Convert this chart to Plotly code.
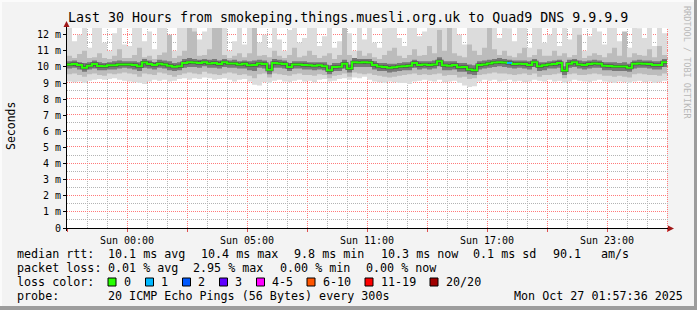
import plotly.graph_objects as go

# ---------------- data (15-minute slots over the last 30 hours) ----------------
slot_hours = 0.25
tick_hours = [0, 3, 6, 9, 12, 15, 18, 21, 24, 27, 30]
tick_labels = ["", "Sun 00:00", "", "Sun 05:00", "", "Sun 11:00", "", "Sun 17:00", "", "Sun 23:00", ""]
y_ticks = [0, 1, 2, 3, 4, 5, 6, 7, 8, 9, 10, 11, 12]
y_labels = ["0", "1 m", "2 m", "3 m", "4 m", "5 m", "6 m", "7 m", "8 m", "9 m", "10 m", "11 m", "12 m"]

# median rtt (ms)
med = [10.15, 10.18, 10.12, 9.95, 10.08, 10.18, 10.06, 10.05, 10.10, 10.10, 10.15, 10.16,
       10.15, 10.12, 10.05, 10.28, 10.18, 10.12, 10.20, 10.15, 10.08, 10.02, 10.05, 10.25,
       10.30, 10.28, 10.25, 10.30, 10.22, 10.25, 10.18, 10.30, 10.22, 10.22, 10.15, 10.20,
       10.10, 10.12, 10.22, 10.18, 9.82, 10.25, 10.22, 10.18, 10.00, 10.15, 10.15, 10.12,
       10.10, 10.08, 10.10, 10.05, 9.80, 10.00, 10.02, 10.20, 9.90, 10.30, 10.28, 10.30,
       10.28, 10.12, 10.03, 10.00, 9.95, 9.98, 10.03, 10.05, 10.08, 10.25, 10.12, 10.15,
       10.12, 10.15, 10.35, 10.10, 10.08, 10.12, 9.98, 10.00, 9.85, 9.80, 10.12, 10.15,
       10.22, 10.28, 10.30, 10.28, 10.25, 10.18, 10.20, 10.18, 10.12, 10.30, 10.05, 10.10,
       10.15, 10.18, 10.25, 9.78, 10.20, 10.30, 10.15, 10.12, 10.18, 10.22, 10.20, 10.08,
       10.06, 10.03, 10.03, 10.03, 9.95, 10.20, 10.22, 10.20, 10.18, 10.12, 10.12, 10.30]

# smoke: fastest / slowest ping (ms)
smoke_min = [9.10, 9.05, 9.10, 9.00, 9.15, 9.20, 9.25, 9.20, 9.25, 9.30, 9.20, 9.15,
             9.10, 9.05, 9.00, 8.95, 9.10, 9.20, 9.15, 9.20, 9.10, 9.15, 9.25, 9.30,
             9.20, 9.30, 9.25, 9.35, 9.30, 9.20, 9.25, 9.30, 9.20, 9.10, 9.20, 9.25,
             9.10, 8.90, 8.85, 9.05, 9.00, 9.15, 9.20, 9.10, 9.05, 9.15, 9.20, 9.10,
             9.15, 9.05, 9.20, 9.25, 9.10, 9.15, 9.25, 9.30, 9.20, 9.35, 9.30, 9.40,
             9.20, 9.10, 9.05, 9.00, 9.10, 9.05, 9.00, 9.00, 8.95, 9.10, 9.15, 9.20,
             9.15, 9.10, 9.20, 9.05, 9.10, 9.15, 9.00, 8.85, 8.75, 8.80, 9.10, 9.20,
             9.15, 9.20, 9.10, 9.15, 9.20, 9.10, 9.15, 9.05, 9.10, 9.20, 9.15, 9.10,
             9.20, 9.10, 9.15, 9.00, 9.10, 9.20, 9.15, 9.10, 9.05, 9.15, 9.20, 9.10,
             9.05, 9.00, 9.10, 9.05, 9.00, 9.10, 9.15, 9.05, 9.10, 9.00, 9.05, 9.15]
smoke_max = [13.0, 11.6, 12.0, 13.0, 11.2, 13.0, 13.0, 11.5, 11.0, 12.1, 13.0, 11.4,
             11.3, 12.8, 13.0, 11.6, 12.2, 11.1, 13.0, 13.0, 11.8, 11.0, 12.5, 13.0,
             13.0, 13.0, 11.7, 12.2, 13.0, 11.3, 11.9, 13.0, 11.0, 11.6, 12.6, 11.4,
             13.0, 13.0, 11.5, 12.0, 11.2, 13.0, 11.7, 11.0, 12.3, 13.0, 11.5, 11.8,
             13.0, 13.0, 11.3, 11.9, 13.0, 11.2, 11.6, 13.0, 12.1, 11.0, 13.0, 11.7,
             13.0, 11.5, 11.2, 12.4, 13.0, 13.0, 11.8, 11.3, 12.8, 13.0, 11.9, 12.2,
             13.0, 13.0, 13.0, 13.0, 11.6, 13.0, 12.0, 11.4, 13.0, 13.0, 12.6, 13.0,
             13.0, 13.0, 11.8, 13.0, 12.4, 11.6, 13.0, 13.0, 11.2, 12.9, 13.0, 11.5,
             12.0, 13.0, 11.3, 13.0, 11.7, 12.6, 13.0, 11.0, 11.9, 13.0, 12.2, 11.4,
             13.0, 13.0, 11.6, 12.0, 11.2, 13.0, 12.4, 11.8, 13.0, 11.3, 13.0, 12.1]
# smoke: middle pings
smoke_lo = [9.55, 9.60, 9.50, 9.40, 9.55, 9.60, 9.50, 9.45, 9.60, 9.55, 9.60, 9.65,
            9.60, 9.55, 9.40, 9.60, 9.55, 9.50, 9.65, 9.60, 9.50, 9.40, 9.50, 9.60,
            9.65, 9.60, 9.55, 9.70, 9.60, 9.55, 9.50, 9.60, 9.65, 9.60, 9.50, 9.55,
            9.45, 9.30, 9.55, 9.60, 9.35, 9.60, 9.55, 9.50, 9.45, 9.55, 9.60, 9.50,
            9.50, 9.45, 9.55, 9.50, 9.30, 9.45, 9.50, 9.60, 9.40, 9.65, 9.60, 9.55,
            9.60, 9.50, 9.45, 9.40, 9.35, 9.40, 9.45, 9.50, 9.55, 9.60, 9.50, 9.55,
            9.50, 9.55, 9.60, 9.45, 9.50, 9.50, 9.35, 9.40, 9.25, 9.30, 9.50, 9.55,
            9.60, 9.65, 9.60, 9.60, 9.55, 9.50, 9.55, 9.60, 9.50, 9.60, 9.40, 9.50,
            9.50, 9.55, 9.60, 9.30, 9.55, 9.60, 9.50, 9.50, 9.55, 9.60, 9.55, 9.45,
            9.45, 9.40, 9.45, 9.40, 9.35, 9.55, 9.60, 9.55, 9.50, 9.50, 9.45, 9.60]
smoke_hi = [10.70, 10.55, 10.80, 11.00, 10.55, 10.60, 10.85, 10.55, 10.50, 10.70, 11.10, 10.55,
            10.55, 10.75, 11.20, 10.60, 10.70, 10.50, 10.75, 10.90, 12.00, 10.55, 10.70, 11.00,
            13.00, 12.20, 10.70, 10.75, 11.10, 13.00, 12.50, 10.75, 10.55, 10.70, 10.85, 10.60,
            10.85, 13.00, 10.70, 10.75, 10.60, 11.00, 10.70, 10.55, 10.75, 11.20, 10.60, 10.70,
            11.00, 10.75, 10.55, 10.70, 10.85, 10.50, 10.75, 13.00, 10.75, 10.55, 11.00, 10.70,
            10.85, 10.60, 10.50, 10.75, 11.00, 11.20, 10.70, 10.55, 10.75, 11.10, 10.70, 10.75,
            11.30, 10.85, 12.30, 11.00, 13.00, 10.85, 10.70, 10.60, 11.40, 11.00, 10.75, 11.20,
            13.00, 11.10, 10.75, 11.00, 10.70, 10.60, 10.85, 11.20, 10.60, 10.75, 11.10, 10.70,
            10.70, 11.00, 10.70, 10.85, 10.60, 10.75, 12.00, 10.55, 10.70, 10.85, 10.75, 10.60,
            10.85, 11.20, 10.70, 12.20, 10.60, 10.85, 10.75, 10.70, 11.10, 10.60, 11.30, 10.75]
# smoke: pings closest to the median
core_lo = [9.90, 9.95, 9.85, 9.70, 9.85, 9.90, 9.80, 9.80, 9.85, 9.85, 9.90, 9.95,
           9.90, 9.85, 9.75, 9.95, 9.90, 9.85, 9.95, 9.90, 9.80, 9.75, 9.80, 9.95,
           10.00, 10.00, 9.95, 10.05, 9.95, 9.95, 9.90, 10.00, 9.95, 9.95, 9.90, 9.90,
           9.80, 9.75, 9.95, 9.90, 9.55, 9.95, 9.95, 9.90, 9.75, 9.90, 9.90, 9.85,
           9.85, 9.80, 9.85, 9.80, 9.55, 9.75, 9.75, 9.90, 9.65, 10.00, 10.00, 10.00,
           10.00, 9.85, 9.75, 9.75, 9.65, 9.70, 9.75, 9.80, 9.80, 9.95, 9.85, 9.90,
           9.85, 9.90, 10.05, 9.80, 9.80, 9.85, 9.70, 9.70, 9.55, 9.50, 9.85, 9.90,
           9.95, 10.00, 10.05, 10.00, 9.95, 9.90, 9.95, 9.90, 9.85, 10.00, 9.75, 9.80,
           9.90, 9.90, 9.95, 9.50, 9.95, 10.00, 9.90, 9.85, 9.90, 9.95, 9.95, 9.80,
           9.80, 9.75, 9.75, 9.75, 9.70, 9.90, 9.95, 9.95, 9.90, 9.85, 9.85, 10.00]
core_hi = [10.35, 10.40, 10.30, 10.25, 10.30, 10.40, 10.30, 10.25, 10.30, 10.35, 10.40, 10.35,
           10.35, 10.35, 10.30, 10.50, 10.40, 10.30, 10.45, 10.40, 10.35, 10.25, 10.30, 10.50,
           10.55, 10.50, 10.45, 10.50, 10.45, 10.50, 10.40, 10.50, 10.40, 10.45, 10.35, 10.40,
           10.35, 10.40, 10.45, 10.40, 10.15, 10.50, 10.45, 10.40, 10.25, 10.35, 10.35, 10.35,
           10.30, 10.30, 10.30, 10.30, 10.10, 10.25, 10.25, 10.45, 10.15, 10.55, 10.50, 10.50,
           10.50, 10.35, 10.25, 10.25, 10.20, 10.20, 10.25, 10.30, 10.30, 10.45, 10.35, 10.35,
           10.35, 10.40, 10.60, 10.35, 10.35, 10.35, 10.25, 10.25, 10.15, 10.10, 10.35, 10.40,
           10.45, 10.50, 10.55, 10.50, 10.45, 10.40, 10.40, 10.40, 10.35, 10.50, 10.30, 10.30,
           10.35, 10.40, 10.45, 10.05, 10.45, 10.50, 10.40, 10.35, 10.40, 10.45, 10.40, 10.30,
           10.30, 10.30, 10.25, 10.30, 10.20, 10.40, 10.45, 10.40, 10.40, 10.35, 10.35, 10.50]

# slots where packets were lost, and how many
loss_slots = [88]
loss_counts = [1]

loss_labels = ["0", "1", "2", "3", "4-5", "6-10", "11-19", "20/20"]
loss_colors = ["#26ff00", "#00b8ff", "#0059ff", "#5e00ff", "#ff00ff", "#ff5500", "#ff0000", "#a00000"]
loss_upper = [0, 1, 2, 3, 5, 10, 19, 20]

title_text = "Last 30 Hours from smokeping.things.muesli.org.uk to Quad9 DNS 9.9.9.9"
rtt_stats = [("median rtt:", 16), ("10.1 ms avg", 107), ("10.4 ms max", 200), ("9.8 ms min", 293),
             ("10.3 ms now", 380), ("0.1 ms sd", 472), ("90.1", 552), ("am/s", 600)]
loss_stats = [("packet loss:", 16), ("0.01 % avg", 107), ("2.95 % max", 192), ("0.00 % min", 279),
              ("0.00 % now", 365)]
probe_text = "20 ICMP Echo Pings (56 Bytes) every 300s"
stamp_text = "Mon Oct 27 01:57:36 2025"

# ---------------- layout geometry (pixels) ----------------
W, H = 697, 310
PL, PR, PT, PB = 67, 667, 28, 228
X_END = 30
Y_TOP = 12.42
MONO = "DejaVu Sans Mono"


def fx(px):
    return (px - PL) / (PR - PL)


def fy(py):
    return (PB - py) / (PB - PT)


def xpix(h):
    return PL + h * (PR - PL) / X_END


def ypix(v):
    return PB - v * (PB - PT) / Y_TOP


x_edges = [i * slot_hours for i in range(len(med) + 1)]


def ext(a):
    return list(a) + [a[-1]]


fig = go.Figure()

bands = [(smoke_min, smoke_max, "#dcdcdc"),
         (smoke_lo, smoke_hi, "#bcbcbc"),
         (core_lo, core_hi, "#787878")]
for lo_a, hi_a, col in bands:
    fig.add_trace(go.Scatter(x=x_edges, y=ext(lo_a), mode="lines",
                             line=dict(width=0, shape="hv"), showlegend=False, hoverinfo="skip"))
    fig.add_trace(go.Scatter(x=x_edges, y=ext(hi_a), mode="lines", fill="tonexty", fillcolor=col,
                             line=dict(width=0, shape="hv"), showlegend=False, hoverinfo="skip"))

# densest pings right around the median
fig.add_trace(go.Scatter(x=x_edges, y=ext(med), mode="lines",
                         line=dict(color="#444444", width=3, shape="hv"),
                         showlegend=False, hoverinfo="skip"))
fig.add_trace(go.Scatter(x=x_edges, y=ext(med), mode="lines",
                         line=dict(color=loss_colors[0], width=2, shape="hv"),
                         showlegend=False, hoverinfo="skip"))


def loss_color(n):
    for up, c in zip(loss_upper, loss_colors):
        if n <= up:
            return c
    return loss_colors[-1]


for s, n in zip(loss_slots, loss_counts):
    fig.add_trace(go.Scatter(x=[x_edges[s], x_edges[s + 1]], y=[med[s], med[s]], mode="lines",
                             line=dict(color=loss_color(n), width=2),
                             showlegend=False, hoverinfo="skip"))

shapes = []
# white plotting area drawn as the bottom-most layer, so the grid sits above it
shapes.append(dict(type="rect", xref="paper", yref="paper", x0=0, x1=1, y0=0, y1=1,
                   fillcolor="#ffffff", line=dict(width=0), layer="below"))

GRID_MAJOR = "#ff7a7a"
GRID_MINOR = "#b4b4b4"
DOTS = "1px,1px"

# grid: gray every hour / half millisecond, red every 3 hours / millisecond (pixel-aligned)
for h in range(1, X_END + 1):
    col = GRID_MAJOR if h % 3 == 0 else GRID_MINOR
    cx = round(xpix(h)) + 0.5
    shapes.append(dict(type="line", xref="paper", yref="paper", x0=fx(cx), x1=fx(cx),
                       y0=fy(PB), y1=fy(PT), line=dict(color=col, width=1, dash=DOTS), layer="below"))
for k in range(1, 25):
    v = k * 0.5
    col = GRID_MAJOR if k % 2 == 0 else GRID_MINOR
    cy = round(ypix(v)) - 0.5
    shapes.append(dict(type="line", xref="paper", yref="paper", x0=fx(PL), x1=fx(PR + 1),
                       y0=fy(cy), y1=fy(cy), line=dict(color=col, width=1, dash=DOTS), layer="below"))

# outer frame of the canvas
shapes.append(dict(type="rect", xref="paper", yref="paper", x0=fx(0), x1=fx(W), y0=fy(0), y1=fy(2),
                   fillcolor="#fbfbfb", line=dict(width=0), layer="below"))
shapes.append(dict(type="rect", xref="paper", yref="paper", x0=fx(0), x1=fx(2), y0=fy(0), y1=fy(H),
                   fillcolor="#fbfbfb", line=dict(width=0), layer="below"))
shapes.append(dict(type="rect", xref="paper", yref="paper", x0=fx(W - 3), x1=fx(W), y0=fy(0), y1=fy(H),
                   fillcolor="#9c9c9c", line=dict(width=0)))
shapes.append(dict(type="rect", xref="paper", yref="paper", x0=fx(0), x1=fx(W), y0=fy(H - 4), y1=fy(H),
                   fillcolor="#9c9c9c", line=dict(width=0)))
# axes with arrows (pixel-aligned)
shapes.append(dict(type="line", xref="paper", yref="paper", x0=fx(PL - 1), x1=fx(PR + 4),
                   y0=fy(PB + 0.5), y1=fy(PB + 0.5), line=dict(color="#000000", width=1)))
shapes.append(dict(type="line", xref="paper", yref="paper", x0=fx(PL - 0.5), x1=fx(PL - 0.5),
                   y0=fy(PB + 3), y1=fy(PT - 3), line=dict(color="#000000", width=1)))
shapes.append(dict(type="path", xref="paper", yref="paper",
                   path=f"M {fx(PR + 1)} {fy(PB - 2.5)} L {fx(PR + 7)} {fy(PB + 0.5)} L {fx(PR + 1)} {fy(PB + 3.5)} Z",
                   fillcolor="#a01818", line=dict(width=0)))
shapes.append(dict(type="path", xref="paper", yref="paper",
                   path=f"M {fx(PL - 3.5)} {fy(PT - 1)} L {fx(PL - 0.5)} {fy(PT - 7)} L {fx(PL + 2.5)} {fy(PT - 1)} Z",
                   fillcolor="#a01818", line=dict(width=0)))

annotations = []


def text(s, px, py, size=11.7, anchor="left", color="#000000", angle=0):
    annotations.append(dict(text=s, x=fx(px), y=fy(py), xref="paper", yref="paper",
                            xanchor=anchor, yanchor="middle", showarrow=False, textangle=angle,
                            font=dict(family=MONO, size=size, color=color), borderpad=0))


text(title_text, 348, 18, size=13.3, anchor="center")
text("Seconds", 11, 126, size=11.5, anchor="center", angle=-90)
text("RRDTOOL / TOBI OETIKER", 687, 62, size=8.5, anchor="center", color="#b8b8b8", angle=90)

for s, px in rtt_stats:
    text(s, px, 254)
for s, px in loss_stats:
    text(s, px, 268)
text("loss color:", 16, 282)
box_x = [108, 145.5, 182.5, 219.5, 256.5, 307, 365, 430]
for lab, col, bx in zip(loss_labels, loss_colors, box_x):
    shapes.append(dict(type="rect", xref="paper", yref="paper", x0=fx(bx), x1=fx(bx + 8),
                       y0=fy(286), y1=fy(278), fillcolor=col, line=dict(color="#000000", width=1)))
    text(lab, bx + 14.5, 282)
text("probe:", 16, 296)
text(probe_text, 107, 296)
text(stamp_text, 513, 296)

fig.update_layout(
    width=W, height=H,
    margin=dict(l=PL, r=W - PR, t=PT, b=H - PB, pad=0),
    paper_bgcolor="#f3f3f3", plot_bgcolor="rgba(0,0,0,0)",
    showlegend=False,
    shapes=shapes, annotations=annotations,
    font=dict(family=MONO, color="#000000"),
    xaxis=dict(range=[0, X_END], tickmode="array", tickvals=tick_hours, ticktext=tick_labels,
               showgrid=False,
               ticks="outside", ticklen=3, tickcolor="#e05050",
               tickfont=dict(family=MONO, size=10, color="#000000"),
               showline=False, zeroline=False, fixedrange=True),
    yaxis=dict(range=[0, Y_TOP], tickmode="array", tickvals=y_ticks, ticktext=y_labels,
               showgrid=False,
               ticks="outside", ticklen=3, tickcolor="#000000",
               tickfont=dict(family=MONO, size=10, color="#000000"),
               showline=False, zeroline=False, fixedrange=True),
)

fig.write_html("out.html")
